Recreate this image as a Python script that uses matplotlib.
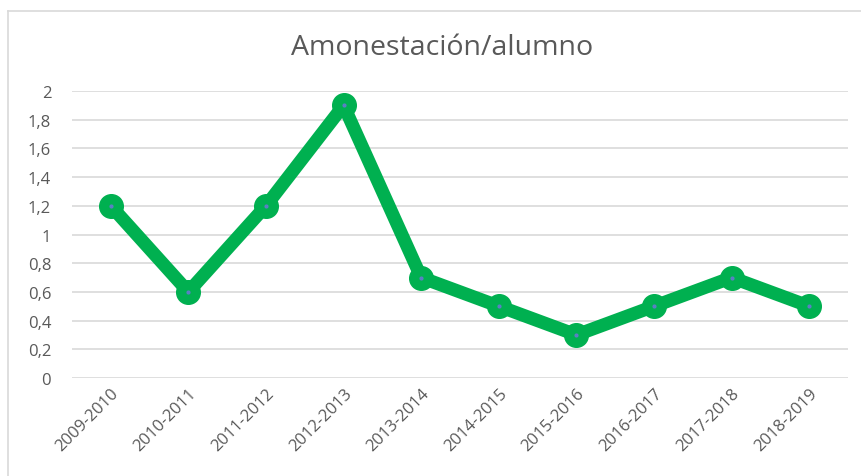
import numpy as np
import matplotlib
matplotlib.use('Agg')
from matplotlib import pyplot as plt
from matplotlib.lines import Line2D

cursos = ['2009-2010', '2010-2011', '2011-2012', '2012-2013', '2013-2014',
          '2014-2015', '2015-2016', '2016-2017', '2017-2018', '2018-2019']
valores = [1.2, 0.6, 1.2, 1.9, 0.7, 0.5, 0.3, 0.5, 0.7, 0.5]
yticks = [0, 0.2, 0.4, 0.6, 0.8, 1, 1.2, 1.4, 1.6, 1.8, 2]
ylabels = ['0', '0,2', '0,4', '0,6', '0,8', '1', '1,2', '1,4', '1,6', '1,8', '2']

plt.rcParams['font.family'] = ['Open Sans', 'DejaVu Sans']

fig = plt.figure(figsize=(8.61, 4.77), dpi=100)
ax = fig.add_axes([0.0836, 0.2055, 0.9014, 0.6015])

x = np.arange(len(cursos))
green = '#00B050'
ax.plot(x, valores, color=green, linewidth=9.5, solid_joinstyle='round',
        marker='o', markersize=17, markerfacecolor=green, markeredgecolor=green, zorder=3)
ax.plot(x, valores, linestyle='none', marker='o', markersize=2,
        color='#5B7FC4', zorder=4)

ax.set_xlim(-0.5, len(cursos) - 0.5)
ax.set_ylim(0, 2)
ax.set_yticks(yticks)
ax.set_yticklabels(ylabels)
ax.set_xticks(x)
ax.set_xticklabels(cursos, rotation=45, ha='right', rotation_mode='anchor')
ax.grid(axis='y', color='#D9D9D9', linewidth=1.2)
ax.set_axisbelow(True)
for s in ax.spines.values():
    s.set_visible(False)
ax.tick_params(axis='both', length=0, labelsize=12, colors='#595959')
ax.tick_params(axis='y', pad=15)
ax.tick_params(axis='x', pad=5)

fig.text(0.513, 0.9, 'Amonestación/alumno', ha='center', va='center',
         fontsize=20.5, color='#595959')

# marco del grafico
fig.add_artist(Line2D([8/861, 1], [1 - 12/477, 1 - 12/477], color='#D9D9D9', linewidth=1.2))
fig.add_artist(Line2D([8/861, 8/861], [0, 1 - 12/477], color='#D9D9D9', linewidth=1.2))

fig.savefig('out.png', dpi=100)
